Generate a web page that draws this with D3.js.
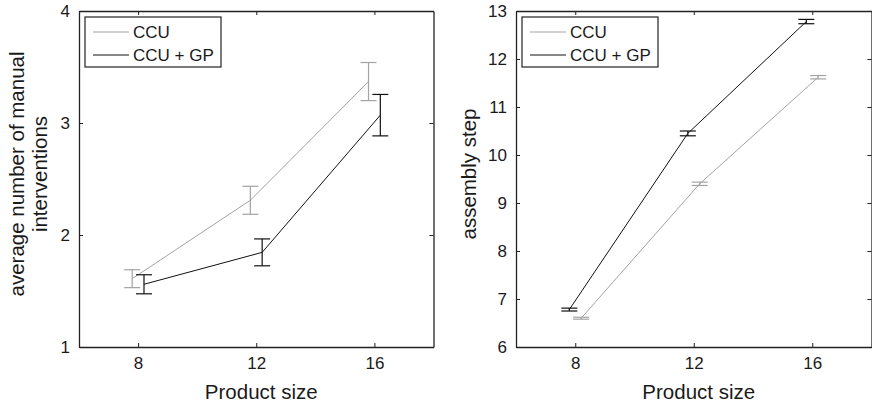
<!DOCTYPE html>
<html>
<head>
<meta charset="utf-8">
<script src="https://cdn.jsdelivr.net/npm/d3@7"></script>
<style>
  body { margin: 0; background: #fff; }
  svg text { font-family: "Liberation Sans", Arial, Helvetica, sans-serif; fill: #1a1a1a; }
</style>
</head>
<body>
<svg id="chart" width="872" height="405"></svg>
<script>
var sizes = [8, 12, 16];
var xTicks = [8, 12, 16];
var seriesNames = ["CCU", "CCU + GP"];

// left panel: average number of manual interventions
var ccuInterventions = [1.61, 2.31, 3.37];
var ccuInterventionsErr = [0.08, 0.125, 0.17];
var gpInterventions = [1.56, 1.845, 3.07];
var gpInterventionsErr = [0.085, 0.12, 0.185];
var interventionTicks = [1, 2, 3, 4];

// right panel: assembly step
var ccuSteps = [6.6, 9.4, 11.62];
var ccuStepsErr = [0.02, 0.035, 0.035];
var gpSteps = [6.78, 10.45, 12.78];
var gpStepsErr = [0.03, 0.05, 0.045];
var stepTicks = [6, 7, 8, 9, 10, 11, 12, 13];

var colors = { "CCU": "#a3a3a3", "CCU + GP": "#111" };

var svg = d3.select("#chart");

var panels = [
  { left: 79, right: 433.5, yDomain: [1, 4], yTicks: interventionTicks,
    ylabel: ["average number of manual", "interventions"], ylabelX: [24, 47],
    series: [
      { name: "CCU", values: ccuInterventions, err: ccuInterventionsErr, shift: -0.2 },
      { name: "CCU + GP", values: gpInterventions, err: gpInterventionsErr, shift: 0.2 }
    ] },
  { left: 516, right: 871.5, yDomain: [6, 13], yTicks: stepTicks,
    ylabel: ["assembly step"], ylabelX: [476],
    series: [
      { name: "CCU", values: ccuSteps, err: ccuStepsErr, shift: 0.2 },
      { name: "CCU + GP", values: gpSteps, err: gpStepsErr, shift: -0.2 }
    ] }
];

var plotTop = 11, plotBottom = 347, tickLen = 4, cap = 8;
var fmt = d3.format("d");

panels.forEach(function(p) {
  var x = d3.scaleLinear().domain([6, 18]).range([p.left, p.right]);
  var y = d3.scaleLinear().domain(p.yDomain).range([plotBottom, plotTop]);
  var g = svg.append("g");

  // series lines + error bars
  p.series.forEach(function(s) {
    var pts = sizes.map(function(v, i) {
      return { x: v + s.shift, y: s.values[i], e: s.err[i] };
    });
    var col = colors[s.name];
    g.append("path")
        .datum(pts)
        .attr("fill", "none")
        .attr("stroke", col)
        .attr("stroke-width", 1)
        .attr("d", d3.line().x(d => x(d.x)).y(d => y(d.y)));

    var eb = g.selectAll(null).data(pts).enter().append("g")
        .attr("stroke", col).attr("stroke-width", 1.2);
    eb.append("line")
        .attr("x1", d => x(d.x)).attr("x2", d => x(d.x))
        .attr("y1", d => y(d.y - d.e)).attr("y2", d => y(d.y + d.e));
    eb.append("line")
        .attr("x1", d => x(d.x) - cap).attr("x2", d => x(d.x) + cap)
        .attr("y1", d => y(d.y + d.e)).attr("y2", d => y(d.y + d.e));
    eb.append("line")
        .attr("x1", d => x(d.x) - cap).attr("x2", d => x(d.x) + cap)
        .attr("y1", d => y(d.y - d.e)).attr("y2", d => y(d.y - d.e));
  });

  // axes (box with inward ticks)
  g.append("g")
      .attr("transform", "translate(0," + plotBottom + ")")
      .call(d3.axisBottom(x).tickValues(xTicks).tickFormat(fmt)
        .tickSizeInner(-tickLen).tickSizeOuter(0).tickPadding(10));
  g.append("g")
      .attr("transform", "translate(0," + plotTop + ")")
      .call(d3.axisTop(x).tickValues(xTicks).tickSizeInner(-tickLen).tickSizeOuter(0).tickFormat(""));
  g.append("g")
      .attr("transform", "translate(" + p.left + ",0)")
      .call(d3.axisLeft(y).tickValues(p.yTicks).tickFormat(fmt)
        .tickSizeInner(-tickLen).tickSizeOuter(0).tickPadding(9));
  g.append("g")
      .attr("transform", "translate(" + p.right + ",0)")
      .call(d3.axisRight(y).tickValues(p.yTicks).tickSizeInner(-tickLen).tickSizeOuter(0).tickFormat(""));

  g.selectAll(".domain").attr("stroke", "#222").attr("stroke-width", 1.3);
  g.selectAll(".tick line").attr("stroke", "#222");
  g.selectAll(".tick text")
      .style("font-size", "17px")
      .attr("fill", "#1a1a1a");

  // axis labels
  g.append("text")
      .attr("x", (p.left + p.right) / 2 + 5)
      .attr("y", 399)
      .attr("text-anchor", "middle")
      .style("font-size", "20.5px")
      .text("Product size");

  p.ylabel.forEach(function(t, i) {
    g.append("text")
        .attr("transform", "translate(" + p.ylabelX[i] + "," + 174 + ") rotate(-90)")
        .attr("text-anchor", "middle")
        .style("font-size", "20.5px")
        .text(t);
  });

  // legend
  var lx = p.left + 6, ly = 17;
  var leg = g.append("g");
  leg.append("rect")
      .attr("x", lx).attr("y", ly)
      .attr("width", 136).attr("height", 50)
      .attr("fill", "#fff").attr("stroke", "#222").attr("stroke-width", 1.2);
  seriesNames.forEach(function(n, i) {
    var yy = ly + 15 + i * 23;
    leg.append("line")
        .attr("x1", lx + 8).attr("x2", lx + 44)
        .attr("y1", yy).attr("y2", yy)
        .attr("stroke", colors[n]).attr("stroke-width", 1);
    leg.append("text")
        .attr("x", lx + 48).attr("y", yy + 6)
        .style("font-size", "17px")
        .text(n);
  });
});
</script>
</body>
</html>
